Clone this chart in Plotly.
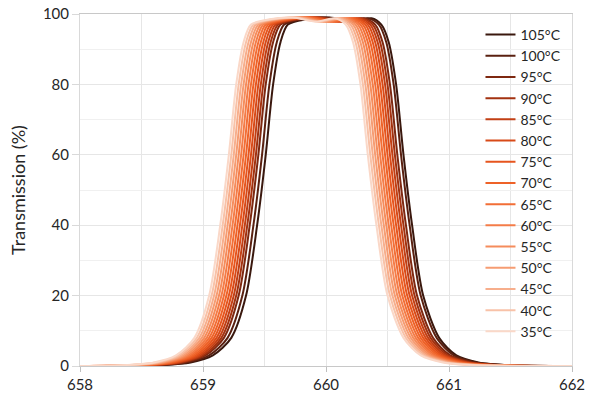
import plotly.graph_objects as go

# temperatures, hottest first (same order as the legend)
temps = ["105°C", "100°C", "95°C", "90°C", "85°C", "80°C", "75°C", "70°C",
         "65°C", "60°C", "55°C", "50°C", "45°C", "40°C", "35°C"]

colors = ["#3a180e", "#5a2010", "#7e2810", "#a33210", "#c23f14", "#d84a18",
          "#e6551e", "#ee6228", "#f26e36", "#f47c48", "#f58c5c", "#f69c72",
          "#f7ae8c", "#f8c2a8", "#fad8c8"]

# transmission levels (%) shared by every curve: edge start, rising edge,
# flat top, falling edge, edge end
levels = [0, 0.2, 1, 3, 8, 20, 40, 60, 80, 92, 97,
          98.5, 99, 97.8, 98.8,
          97, 92, 80, 60, 40, 20, 8, 3, 1, 0.2, 0]

# wavelength (nm) where each curve sits at the levels above
wl = {
    "105°C": [658.0, 658.63, 658.90, 659.08, 659.23, 659.35, 659.44, 659.51, 659.57, 659.63, 659.69,
              659.84, 660.03, 660.22, 660.37,
              660.45, 660.51, 660.57, 660.63, 660.70, 660.79, 660.92, 661.06, 661.24, 661.51, 662.0],
    "100°C": [658.0, 658.60, 658.87, 659.05, 659.20, 659.32, 659.41, 659.48, 659.54, 659.60, 659.66,
              659.81, 660.00, 660.19, 660.34,
              660.43, 660.49, 660.55, 660.61, 660.68, 660.77, 660.90, 661.04, 661.22, 661.49, 662.0],
    "95°C": [658.0, 658.57, 658.84, 659.02, 659.17, 659.29, 659.38, 659.45, 659.51, 659.57, 659.63,
             659.78, 659.97, 660.16, 660.31,
             660.40, 660.46, 660.52, 660.58, 660.65, 660.74, 660.87, 661.01, 661.19, 661.46, 662.0],
    "90°C": [658.0, 658.55, 658.82, 659.00, 659.15, 659.27, 659.36, 659.43, 659.49, 659.55, 659.61,
             659.76, 659.95, 660.14, 660.29,
             660.38, 660.44, 660.50, 660.56, 660.63, 660.72, 660.85, 660.99, 661.17, 661.44, 662.0],
    "85°C": [658.0, 658.53, 658.80, 658.98, 659.13, 659.25, 659.34, 659.41, 659.47, 659.53, 659.59,
             659.74, 659.93, 660.12, 660.27,
             660.36, 660.42, 660.48, 660.54, 660.61, 660.70, 660.83, 660.97, 661.15, 661.42, 662.0],
    "80°C": [658.0, 658.51, 658.78, 658.96, 659.11, 659.23, 659.32, 659.39, 659.45, 659.51, 659.57,
             659.72, 659.91, 660.10, 660.25,
             660.34, 660.40, 660.46, 660.52, 660.59, 660.68, 660.81, 660.95, 661.13, 661.40, 662.0],
    "75°C": [658.0, 658.49, 658.76, 658.94, 659.09, 659.21, 659.30, 659.37, 659.43, 659.49, 659.55,
             659.70, 659.89, 660.08, 660.23,
             660.32, 660.38, 660.44, 660.50, 660.57, 660.66, 660.79, 660.93, 661.11, 661.38, 662.0],
    "70°C": [658.0, 658.47, 658.74, 658.92, 659.07, 659.19, 659.28, 659.35, 659.41, 659.47, 659.53,
             659.68, 659.87, 660.06, 660.21,
             660.30, 660.36, 660.42, 660.48, 660.55, 660.64, 660.77, 660.91, 661.09, 661.36, 662.0],
    "65°C": [658.0, 658.45, 658.72, 658.90, 659.05, 659.17, 659.26, 659.33, 659.39, 659.45, 659.51,
             659.66, 659.85, 660.04, 660.19,
             660.28, 660.34, 660.40, 660.46, 660.53, 660.62, 660.75, 660.89, 661.07, 661.34, 662.0],
    "60°C": [658.0, 658.43, 658.70, 658.88, 659.03, 659.15, 659.24, 659.31, 659.37, 659.43, 659.49,
             659.64, 659.83, 660.02, 660.17,
             660.26, 660.32, 660.38, 660.44, 660.51, 660.60, 660.73, 660.87, 661.05, 661.32, 662.0],
    "55°C": [658.0, 658.41, 658.68, 658.86, 659.01, 659.13, 659.22, 659.29, 659.35, 659.41, 659.47,
             659.62, 659.81, 660.00, 660.15,
             660.24, 660.30, 660.36, 660.42, 660.49, 660.58, 660.71, 660.85, 661.03, 661.30, 662.0],
    "50°C": [658.0, 658.39, 658.66, 658.84, 658.99, 659.11, 659.20, 659.27, 659.33, 659.39, 659.45,
             659.60, 659.79, 659.98, 660.13,
             660.22, 660.28, 660.34, 660.40, 660.47, 660.56, 660.69, 660.83, 661.01, 661.28, 662.0],
    "45°C": [658.0, 658.37, 658.64, 658.82, 658.97, 659.09, 659.18, 659.25, 659.31, 659.37, 659.43,
             659.58, 659.77, 659.96, 660.11,
             660.20, 660.26, 660.32, 660.38, 660.45, 660.54, 660.67, 660.81, 660.99, 661.26, 662.0],
    "40°C": [658.0, 658.35, 658.62, 658.80, 658.95, 659.07, 659.16, 659.23, 659.29, 659.35, 659.41,
             659.56, 659.75, 659.94, 660.09,
             660.18, 660.24, 660.30, 660.36, 660.43, 660.52, 660.65, 660.79, 660.97, 661.24, 662.0],
    "35°C": [658.0, 658.33, 658.60, 658.78, 658.93, 659.05, 659.14, 659.21, 659.27, 659.33, 659.39,
             659.54, 659.73, 659.92, 660.07,
             660.16, 660.22, 660.28, 660.34, 660.41, 660.50, 660.63, 660.77, 660.95, 661.22, 662.0],
}

x_ticks = [658, 659, 660, 661, 662]
y_ticks = [0, 20, 40, 60, 80, 100]

fig = go.Figure()
for t, c in zip(temps, colors):
    fig.add_trace(go.Scatter(
        x=wl[t], y=levels, name=t, mode="lines",
        line=dict(color=c, width=2, shape="spline", smoothing=0.8),
    ))

grid = "#e6e6e6"
fig.update_layout(
    width=600, height=400,
    margin=dict(l=80, r=28, t=14, b=34),
    paper_bgcolor="white", plot_bgcolor="white",
    font=dict(family="Lato, Open Sans, sans-serif", color="#262626"),
    showlegend=True,
    legend=dict(
        x=0.814, y=0.986, xanchor="left", yanchor="top",
        bgcolor="rgba(0,0,0,0)", font=dict(size=14),
        itemwidth=30, tracegroupgap=0,
    ),
)
fig.update_xaxes(
    range=[658, 662], tickvals=x_ticks, ticktext=[str(v) for v in x_ticks],
    tickfont=dict(size=15), showgrid=True, gridcolor=grid,
    minor=dict(dtick=0.5, showgrid=True, gridcolor=grid),
    showline=True, linecolor="#c8c8c8", mirror=True, automargin=False,
    ticks="outside", ticklen=5, tickcolor="#bfbfbf", zeroline=False,
)
fig.update_yaxes(
    range=[0, 100], tickvals=y_ticks, tickfont=dict(size=15),
    title=dict(text="Transmission (%)", font=dict(size=18), standoff=12),
    showgrid=True, gridcolor=grid, automargin=False, ticklabeloverflow="allow",
    minor=dict(dtick=10, showgrid=True, gridcolor="#f0f0f0"),
    showline=True, linecolor="#d9d9d9", mirror=True,
    ticks="outside", ticklen=7, tickcolor="#d9d9d9", zeroline=False,
)

# drop the browser's default 8px body margin so the chart fills the window
fig.write_html("out.html", config={"displayModeBar": False},
               post_script="document.body.style.margin = '0px';")
